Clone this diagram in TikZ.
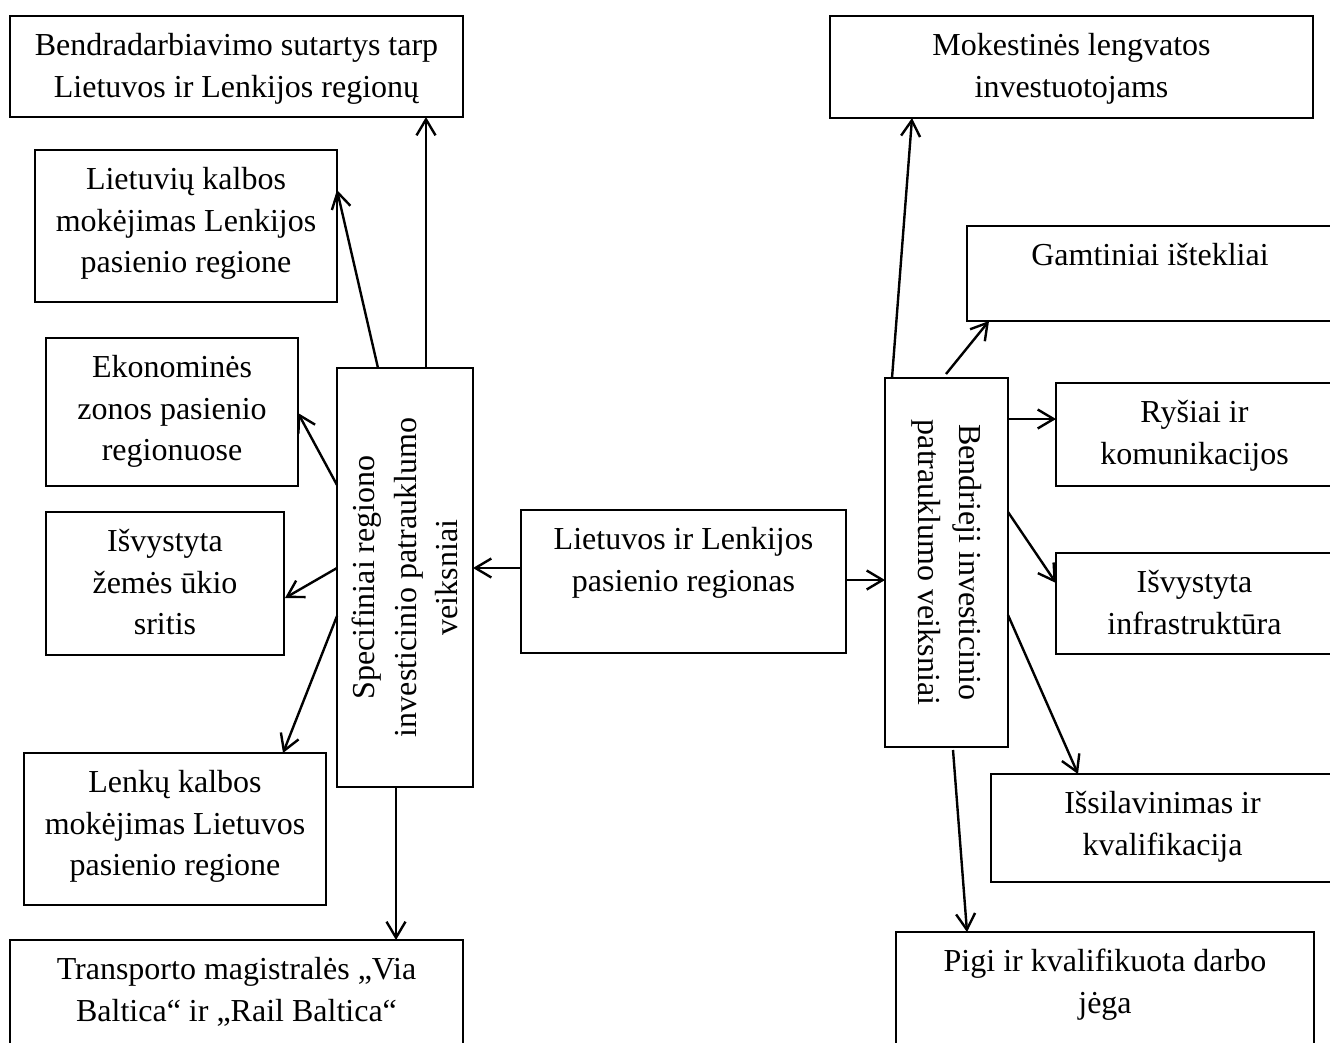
\documentclass[tikz,border=0pt]{standalone}
\usepackage{fontspec}
\setmainfont{Liberation Serif}
\usepackage{graphicx}
\usetikzlibrary{arrows.meta,calc}
\newcommand{\boxtext}[3]{\parbox[c][#2][t]{#1}{\centering\rule{0pt}{39.5pt}#3}}
\newcommand{\vertext}[2]{\parbox{#1}{\centering #2}}
\begin{document}
\begin{tikzpicture}[x=1pt,y=-1pt,
  every node/.style={font=\fontsize{32}{41.5}\selectfont},
  bx/.style={draw, line width=1.4pt, inner sep=0pt, outer sep=0pt, anchor=north west},
  arr/.style={-{Straight Barb[length=16pt,width=19pt]}, line width=2.4pt}]
\useasboundingbox (0,0) rectangle (1330,1042);
\clip (0,0) rectangle (1330,1042);
% left boxes
\node[bx] (A) at (10,16) {\boxtext{453pt}{101pt}{Bendradarbiavimo sutartys tarp\\Lietuvos ir Lenkijos regionų}};
\node[bx] (B) at (35,150) {\boxtext{302pt}{152pt}{Lietuvių kalbos\\mokėjimas Lenkijos\\pasienio regione}};
\node[bx] (C) at (46,338) {\boxtext{252pt}{148pt}{Ekonominės\\zonos pasienio\\regionuose}};
\node[bx] (D) at (46,512) {\boxtext{238pt}{143pt}{Išvystyta\\žemės ūkio\\sritis}};
\node[bx] (E) at (24,753) {\boxtext{302pt}{152pt}{Lenkų kalbos\\mokėjimas Lietuvos\\pasienio regione}};
\node[bx] (F) at (10,940) {\boxtext{453pt}{120pt}{Transporto magistralės „Via\\Baltica“ ir „Rail Baltica“}};
% vertical boxes
\node[bx, minimum width=136pt, minimum height=419pt] (S) at (337,368) {\rotatebox{90}{\vertext{419pt}{Specifiniai regiono\\investicinio patrauklumo\\veiksniai}}};
\node[bx, minimum width=123pt, minimum height=369pt] (G) at (885,378) {\rotatebox{-90}{\vertext{369pt}{Bendrieji investicinio\\patrauklumo veiksniai}}};
% centre
\node[bx] (Ctr) at (521,510) {\boxtext{325pt}{143pt}{Lietuvos ir Lenkijos\\pasienio regionas}};
% right boxes
\node[bx] (Mok) at (830,16) {\boxtext{483pt}{102pt}{Mokestinės lengvatos\\investuotojams}};
\node[bx] (Gam) at (967,226) {\boxtext{366pt}{95pt}{Gamtiniai ištekliai}};
\node[bx] (Rys) at (1056,383) {\boxtext{277pt}{103pt}{Ryšiai ir\\komunikacijos}};
\node[bx] (Inf) at (1056,553) {\boxtext{277pt}{101pt}{Išvystyta\\infrastruktūra}};
\node[bx] (Iss) at (991,774) {\boxtext{343pt}{108pt}{Išsilavinimas ir\\kvalifikacija}};
\node[bx] (Pigi) at (896,932) {\boxtext{418pt}{130pt}{Pigi ir kvalifikuota darbo\\jėga}};
% left arrows
\draw[arr] ($(S.north west)+(89,0)$) -- ($(A.south west)+(416,0)$);
\draw[arr] ($(S.north west)+(41,0)$) -- ($(B.north east)+(0,40)$);
\draw[arr] ($(S.north west)+(0,117)$) -- ($(C.north east)+(0,75)$);
\draw[arr] ($(S.north west)+(0,200)$) -- ($(D.north east)+(1,86)$);
\draw[arr] ($(S.north west)+(0,248)$) -- ($(E.north west)+(259,0)$);
\draw[arr] ($(S.south west)+(59,0)$) -- ($(F.north west)+(386,0)$);
% centre arrows
\draw[arr] ($(Ctr.north west)+(0,58)$) -- ($(S.north east)+(0,200)$);
\draw[arr] ($(Ctr.north east)+(0,70)$) -- ($(G.north west)+(0,202)$);
% right arrows
\draw[arr] ($(G.north west)+(7,0)$) -- ($(Mok.south west)+(82,0)$);
\draw[arr] ($(G.north west)+(61,-4)$) -- ($(Gam.south west)+(22,0)$);
\draw[arr] ($(G.north east)+(0,41)$) -- ($(Rys.north west)+(0,36)$);
\draw[arr] ($(G.north east)+(0,134)$) -- ($(Inf.north west)+(0,30)$);
\draw[arr] ($(G.north east)+(0,237)$) -- ($(Iss.north west)+(87,0)$);
\draw[arr] ($(G.south west)+(68,3)$) -- ($(Pigi.north west)+(71,0)$);
\end{tikzpicture}
\end{document}
